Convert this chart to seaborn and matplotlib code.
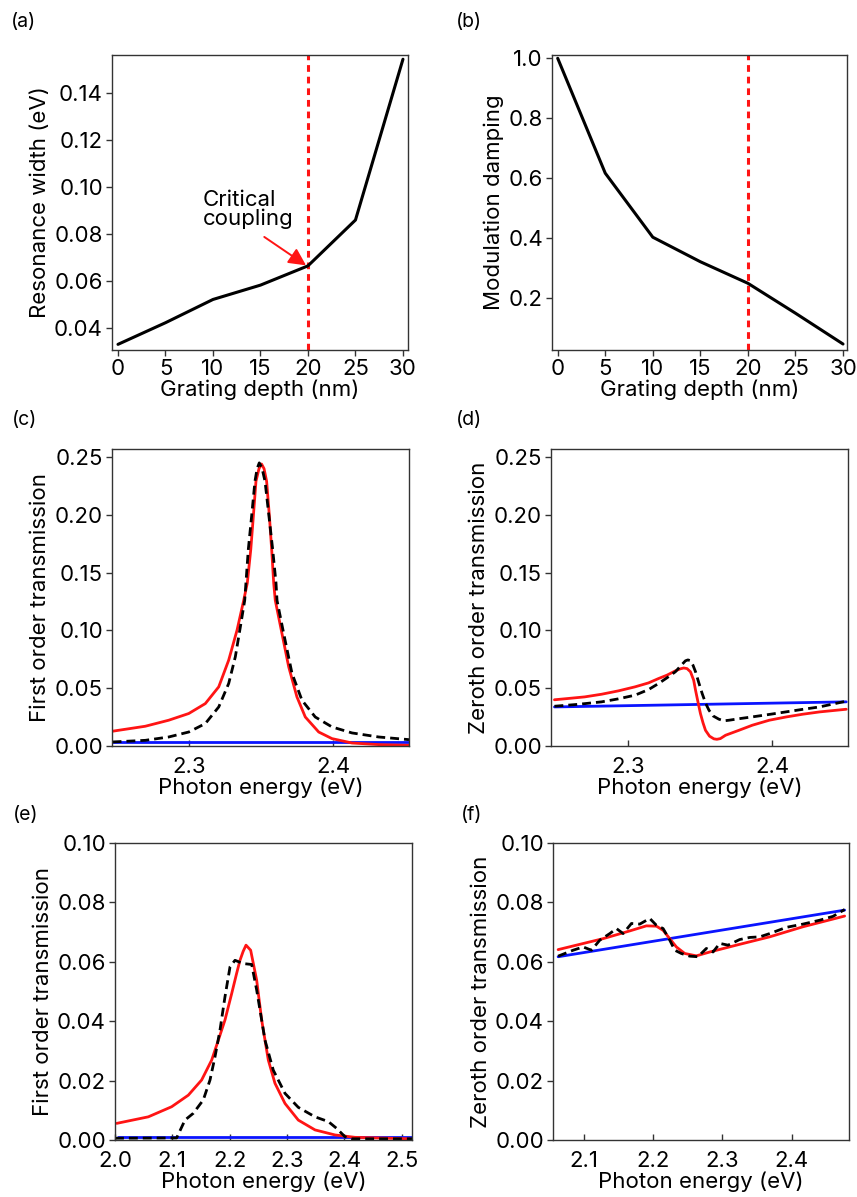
import numpy as np
import pandas as pd
import matplotlib
matplotlib.use('Agg')
import matplotlib.pyplot as plt
from matplotlib.ticker import FormatStrFormatter
import seaborn as sns

# ---- (a), (b) grating depth sweep
depth = [0, 5, 10, 15, 20, 25, 30]
res_width = [0.0332, 0.0424, 0.0523, 0.0584, 0.0666, 0.0861, 0.1545]
mod_damping = [1.0, 0.616, 0.402, 0.320, 0.248, 0.148, 0.045]
critical_depth = 20

# ---- (c) first order, 20 nm
c_red_x = [2.247, 2.2697, 2.2859, 2.2998, 2.3113, 2.3206, 2.3275, 2.3333, 2.3379, 2.3404,
           2.3428, 2.3446, 2.3464, 2.3485, 2.3503, 2.352, 2.3538, 2.3557, 2.3573, 2.3587,
           2.3598, 2.3644, 2.3691, 2.3748, 2.3806, 2.3899, 2.3991, 2.413, 2.4315, 2.4525]
c_red_y = [0.0128, 0.0171, 0.0223, 0.0281, 0.0367, 0.0512, 0.0743, 0.1003, 0.126, 0.141,
           0.170, 0.199, 0.229, 0.240, 0.244, 0.240, 0.229, 0.199, 0.170, 0.141,
           0.126, 0.0975, 0.0685, 0.0425, 0.0251, 0.0121, 0.0064, 0.0026, 0.0012, 0.0006]
c_blk_x = [2.247, 2.2697, 2.2859, 2.2998, 2.3113, 2.3206, 2.3275, 2.3321, 2.3356, 2.3386,
           2.3411, 2.3434, 2.3457, 2.3472, 2.3487, 2.3505, 2.3527, 2.3554, 2.358, 2.3603,
           2.361, 2.3656, 2.3714, 2.3783, 2.3875, 2.3991, 2.413, 2.4315, 2.4525]
c_blk_y = [0.0035, 0.0049, 0.0078, 0.0121, 0.0194, 0.0338, 0.0541, 0.0772, 0.1032, 0.126,
           0.170, 0.199, 0.229, 0.240, 0.245, 0.241, 0.229, 0.199, 0.170, 0.141,
           0.126, 0.0975, 0.0628, 0.0396, 0.0251, 0.0165, 0.0113, 0.0078, 0.0055]
c_blue_x = [2.247, 2.4525]
c_blue_y = [0.0035, 0.0035]

# ---- (d) zeroth order, 20 nm
d_red_x = [2.249, 2.2584, 2.27, 2.2817, 2.2933, 2.3049, 2.3142, 2.3212, 2.327, 2.3328,
           2.3363, 2.3386, 2.3409, 2.3433, 2.3455, 2.3468, 2.3485, 2.3502, 2.352, 2.3537,
           2.3565, 2.3595, 2.3616, 2.364, 2.3676, 2.3769, 2.3862, 2.3979, 2.4095, 2.4211,
           2.4328, 2.4513]
d_red_y = [0.040, 0.0411, 0.0425, 0.0448, 0.0477, 0.0512, 0.0546, 0.0584, 0.0613, 0.065,
           0.0668, 0.0675, 0.067, 0.0642, 0.057, 0.0483, 0.038, 0.0281, 0.020, 0.0136,
           0.0085, 0.0062, 0.0058, 0.0064, 0.0093, 0.0136, 0.018, 0.0223, 0.0251, 0.0275,
           0.0295, 0.0318]
d_blk_x = [2.249, 2.265, 2.2817, 2.2933, 2.3049, 2.3142, 2.3212, 2.327, 2.3328, 2.337,
           2.3398, 2.3415, 2.3433, 2.345, 2.3468, 2.349, 2.3514, 2.3538, 2.3561, 2.359,
           2.363, 2.3665, 2.37, 2.378, 2.3862, 2.3978, 2.4094, 2.421, 2.4327, 2.4513]
d_blk_y = [0.0344, 0.036, 0.0382, 0.0408, 0.044, 0.0488, 0.0541, 0.059, 0.0642, 0.070,
           0.0737, 0.0745, 0.0738, 0.070, 0.0642, 0.055, 0.0454, 0.037, 0.031, 0.026,
           0.0232, 0.0218, 0.0223, 0.0238, 0.0252, 0.0273, 0.0295, 0.0317, 0.0338, 0.0388]
d_blue_x = [2.249, 2.4513]
d_blue_y = [0.0338, 0.0382]

# ---- (e) first order, 30 nm
e_red_x = [2.003, 2.0581, 2.0988, 2.1279, 2.1511, 2.1686, 2.1802, 2.1918, 2.2035, 2.212,
           2.218, 2.2235, 2.2285, 2.2366, 2.2471, 2.2558, 2.2674, 2.279, 2.2965, 2.3197,
           2.3488, 2.3837, 2.4186, 2.5145]
e_red_y = [0.0056, 0.0078, 0.0112, 0.0151, 0.0202, 0.0269, 0.0336, 0.0404, 0.0493, 0.056,
           0.0605, 0.0635, 0.0656, 0.0639, 0.0538, 0.0404, 0.0269, 0.0191, 0.0123, 0.0067,
           0.0034, 0.0017, 0.0009, 0.0004]
e_blk_x = [2.0, 2.1075, 2.122, 2.1366, 2.154, 2.1657, 2.1744, 2.1831, 2.1918, 2.2006,
           2.2093, 2.2238, 2.2384, 2.2471, 2.2558, 2.2616, 2.2761, 2.2965, 2.3197, 2.3488,
           2.3721, 2.3866, 2.4011, 2.4128, 2.518]
e_blk_y = [0.0006, 0.0007, 0.0067, 0.009, 0.0135, 0.0202, 0.028, 0.037, 0.0482, 0.0583,
           0.0605, 0.0594, 0.0591, 0.0505, 0.0404, 0.0336, 0.0235, 0.0157, 0.011, 0.0078,
           0.0062, 0.0039, 0.0011, 0.0004, 0.0004]
e_blue_x = [2.005, 2.518]
e_blue_y = [0.0011, 0.0011]

# ---- (f) zeroth order, 30 nm
f_red_x = [2.0624, 2.1275, 2.166, 2.19, 2.2045, 2.2142, 2.2238, 2.2334, 2.2455, 2.2623,
           2.2817, 2.32, 2.3683, 2.4165, 2.4767]
f_red_y = [0.0641, 0.0678, 0.0704, 0.0721, 0.072, 0.0706, 0.0678, 0.065, 0.0628, 0.062,
           0.0633, 0.0656, 0.0684, 0.0718, 0.0754]
f_blk_x = [2.0624, 2.0841, 2.0986, 2.1106, 2.1227, 2.1371, 2.1467, 2.1564, 2.1684, 2.1805,
           2.1949, 2.2045, 2.2142, 2.2238, 2.2311, 2.2406, 2.2527, 2.2647, 2.2767, 2.2864,
           2.2961, 2.3081, 2.325, 2.3394, 2.3539, 2.3683, 2.3924, 2.4165, 2.4406, 2.4598,
           2.4767]
f_blk_y = [0.0619, 0.0639, 0.065, 0.0639, 0.0673, 0.0695, 0.0712, 0.0695, 0.0729, 0.0727,
           0.0746, 0.0723, 0.0712, 0.0673, 0.0639, 0.0628, 0.0619, 0.0617, 0.0645, 0.0633,
           0.0662, 0.0656, 0.0675, 0.0682, 0.0684, 0.0695, 0.0716, 0.0727, 0.074, 0.0753,
           0.0776]
f_blue_x = [2.0624, 2.4767]
f_blue_y = [0.0617, 0.0774]

sns.set_theme(style='ticks')
plt.rcParams['font.family'] = ['Inter', 'DejaVu Sans']
plt.rcParams['axes.edgecolor'] = '#333333'
plt.rcParams['axes.linewidth'] = 1.0
plt.rcParams['text.color'] = 'black'
plt.rcParams['axes.labelcolor'] = 'black'
plt.rcParams['xtick.labelcolor'] = 'black'
plt.rcParams['ytick.labelcolor'] = 'black'

RED = '#ff1414'
BLUE = '#0a14ff'
DASH = (0, (3.2, 1.8))
FS = 16

W, H = 857, 1197
fig = plt.figure(figsize=(W / 100, H / 100), dpi=100)


def make_ax(l, r, t, b):
    return fig.add_axes([l / W, 1 - b / H, (r - l) / W, (b - t) / H])


ax_a = make_ax(112, 408, 55, 350)
ax_b = make_ax(552, 847, 55, 350)
ax_c = make_ax(112, 409, 449, 746)
ax_d = make_ax(551, 848, 449, 746)
ax_e = make_ax(115, 412, 843, 1140)
ax_f = make_ax(553, 849, 843, 1140)

lw = 2.0
# (a)
sns.lineplot(x=depth, y=res_width, ax=ax_a, color='black', lw=2.2)
ax_a.axvline(critical_depth, color=RED, lw=2.2, ls=(0, (2.2, 1.6)), zorder=1)
ax_a.set_xlim(-0.63, 30.53)
ax_a.set_ylim(0.0308, 0.1563)
ax_a.set_yticks([0.04, 0.06, 0.08, 0.10, 0.12, 0.14])
ax_a.yaxis.set_major_formatter(FormatStrFormatter('%.2f'))
ax_a.set_ylabel('Resonance width (eV)')
ax_a.text(8.9, 0.0905, 'Critical\ncoupling', fontsize=16, va='center', ha='left',
          linespacing=0.9)
ax_a.annotate('', xy=(19.8, 0.0668), xytext=(15.4, 0.0789),
              arrowprops=dict(arrowstyle='-|>', color=RED, lw=1.4, mutation_scale=26,
                              shrinkA=0, shrinkB=0))

# (b)
sns.lineplot(x=depth, y=mod_damping, ax=ax_b, color='black', lw=2.2)
ax_b.axvline(critical_depth, color=RED, lw=2.2, ls=(0, (2.2, 1.6)), zorder=1)
ax_b.set_xlim(-0.6, 30.42)
ax_b.set_ylim(0.025, 1.011)
ax_b.set_yticks([0.2, 0.4, 0.6, 0.8, 1.0])
ax_b.yaxis.set_major_formatter(FormatStrFormatter('%.1f'))
ax_b.set_ylabel('Modulation damping')

for ax in (ax_a, ax_b):
    ax.set_xticks([0, 5, 10, 15, 20, 25, 30])
    ax.tick_params(axis='x', direction='out', pad=2.5)
    ax.set_xlabel('Grating depth (nm)', labelpad=0)


def spectra(ax, bx, by, rx, ry, kx, ky):
    sns.lineplot(x=bx, y=by, ax=ax, color=BLUE, lw=lw)
    sns.lineplot(x=rx, y=ry, ax=ax, color=RED, lw=lw)
    sns.lineplot(x=kx, y=ky, ax=ax, color='black', lw=lw, ls=DASH)
    ax.tick_params(axis='x', direction='in', pad=8)
    ax.set_xlabel('Photon energy (eV)', labelpad=0)


spectra(ax_c, c_blue_x, c_blue_y, c_red_x, c_red_y, c_blk_x, c_blk_y)
spectra(ax_d, d_blue_x, d_blue_y, d_red_x, d_red_y, d_blk_x, d_blk_y)
spectra(ax_e, e_blue_x, e_blue_y, e_red_x, e_red_y, e_blk_x, e_blk_y)
spectra(ax_f, f_blue_x, f_blue_y, f_red_x, f_red_y, f_blk_x, f_blk_y)

for ax in (ax_c, ax_d):
    ax.set_xlim(2.2466, 2.4525)
    ax.set_ylim(0, 0.257)
    ax.set_xticks([2.3, 2.4])
    ax.set_yticks([0, 0.05, 0.10, 0.15, 0.20, 0.25])
    ax.yaxis.set_major_formatter(FormatStrFormatter('%.2f'))
    ax.xaxis.set_major_formatter(FormatStrFormatter('%.1f'))
ax_c.set_ylabel('First order transmission')
ax_d.set_ylabel('Zeroth order transmission')

ax_e.set_xlim(2.0, 2.518)
ax_e.set_xticks([2.0, 2.1, 2.2, 2.3, 2.4, 2.5])
ax_f.set_xlim(2.055, 2.483)
ax_f.set_xticks([2.1, 2.2, 2.3, 2.4])
for ax in (ax_e, ax_f):
    ax.set_ylim(0, 0.10)
    ax.set_yticks([0, 0.02, 0.04, 0.06, 0.08, 0.10])
    ax.yaxis.set_major_formatter(FormatStrFormatter('%.2f'))
    ax.xaxis.set_major_formatter(FormatStrFormatter('%.1f'))
ax_e.set_ylabel('First order transmission')
ax_f.set_ylabel('Zeroth order transmission')

for ax in (ax_a, ax_b, ax_c, ax_d, ax_e, ax_f):
    ax.tick_params(axis='both', labelsize=FS, length=4, width=1, color='#333333',
                   labelcolor='black')
    ax.tick_params(axis='y', direction='out', pad=2.5)
    ax.xaxis.label.set_size(FS)
    ax.yaxis.label.set_size(FS)
    ax.xaxis.label.set_color('black')
    ax.yaxis.label.set_color('black')
    ax.yaxis.labelpad = 3
    for s in ax.spines.values():
        s.set_visible(True)

letters = [('(a)', 11, 22), ('(b)', 456, 22), ('(c)', 12, 420),
           ('(d)', 456, 420), ('(e)', 13, 815), ('(f)', 461, 815)]
for lab, px, py in letters:
    fig.text(px / W, 1 - py / H, lab, fontsize=14, va='center', ha='left', color='black')

fig.savefig('out.png', dpi=100)
